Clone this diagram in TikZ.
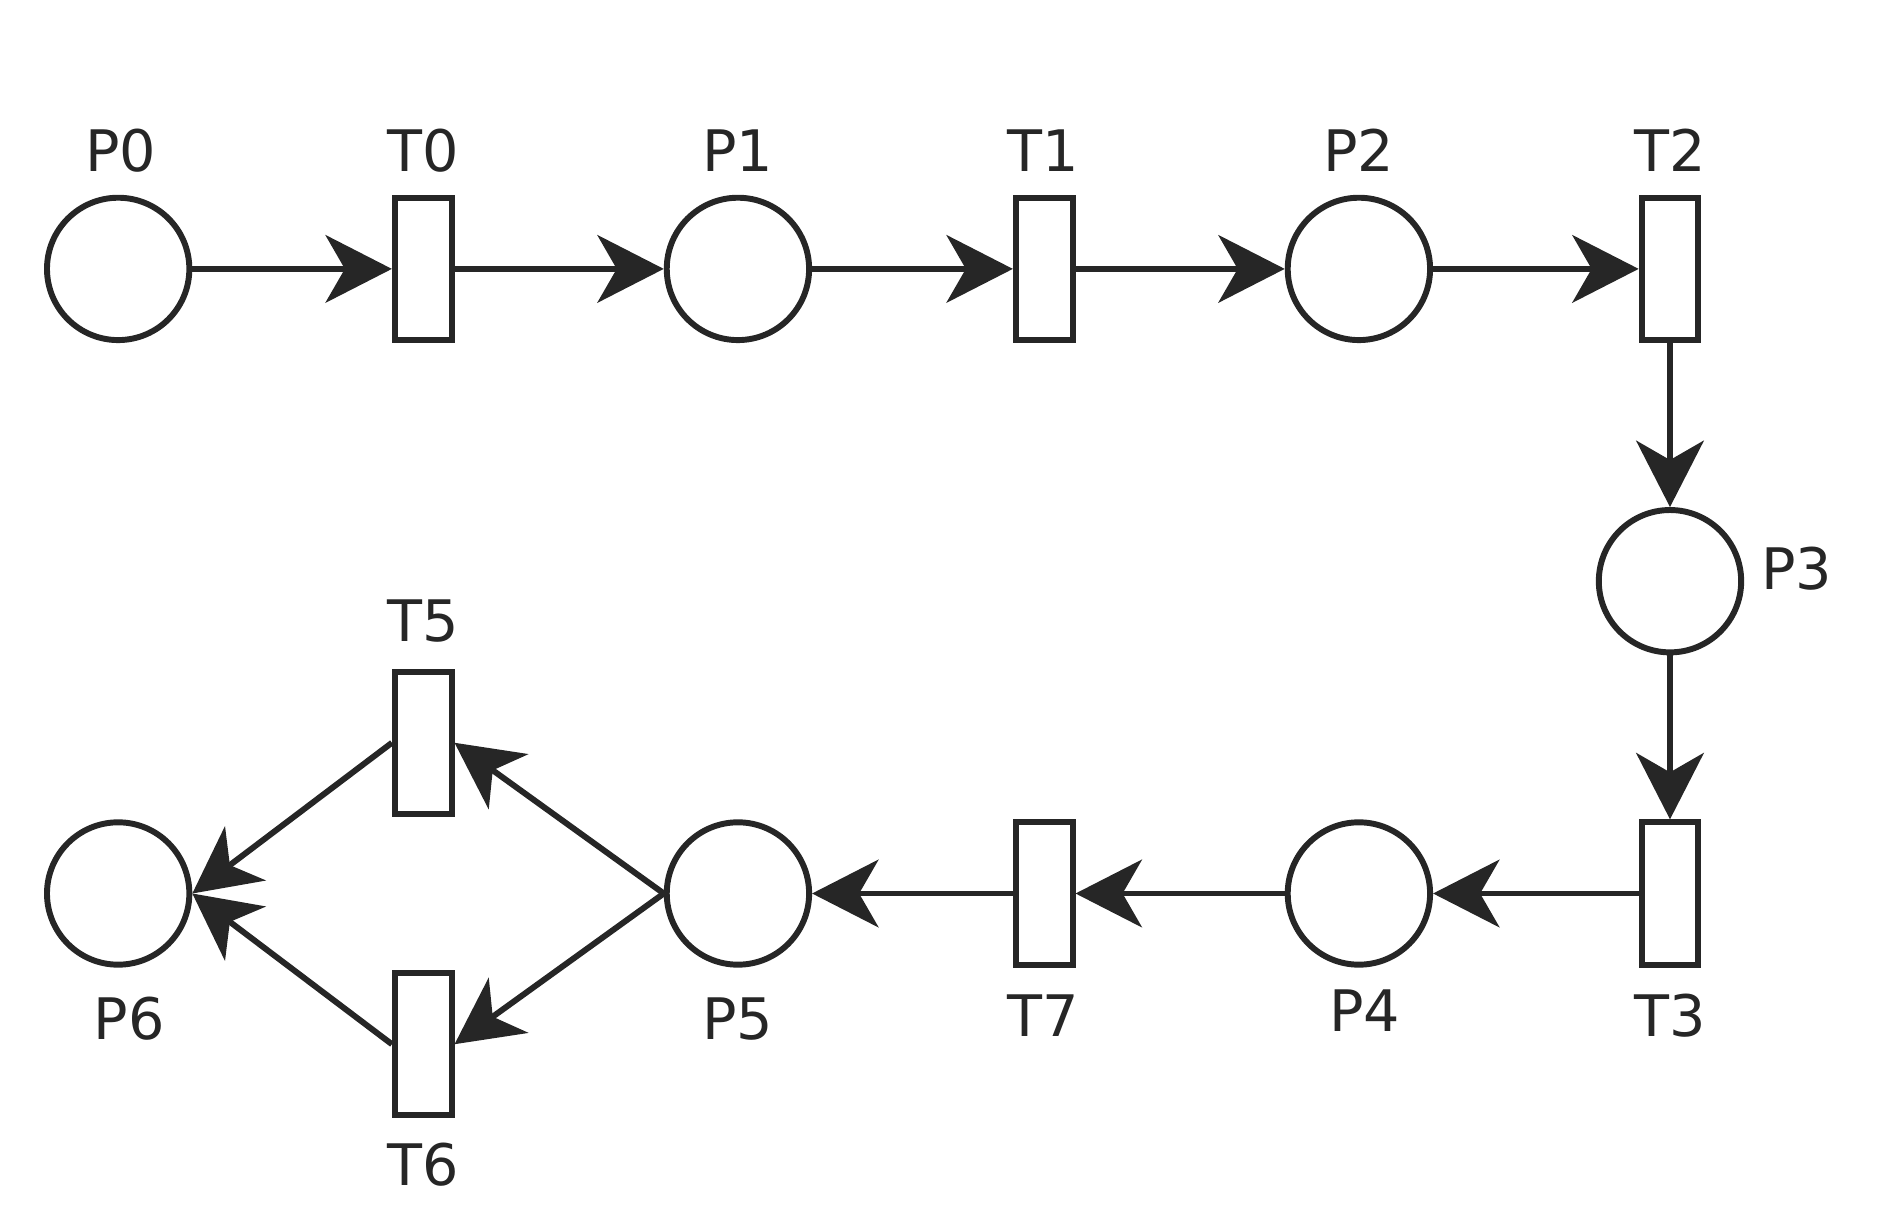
\documentclass[tikz,border=0pt]{standalone}
\usepackage{fontspec}
\setmainfont{DejaVu Sans}
\usetikzlibrary{arrows.meta}
\begin{document}
\begin{tikzpicture}[x=0.01cm,y=-0.01cm,
  place/.style={circle,draw=black!85,line width=1.4pt,minimum size=1.18cm,inner sep=0pt},
  trans/.style={rectangle,draw=black!85,line width=1.4pt,minimum width=0.47cm,minimum height=1.18cm,inner sep=0pt},
  lab/.style={font=\fontsize{13.5}{14}\selectfont,text=black!85},
  arc/.style={draw=black!85,line width=1.4pt,-{Stealth[length=5.5mm,width=5.6mm,inset=1.6mm]}}]
\useasboundingbox (0,0) rectangle (1560,1017);
\node[place] (P0) at (98,223) {};
\node[trans] (T0) at (351,223) {};
\node[place] (P1) at (612,223) {};
\node[trans] (T1) at (866,223) {};
\node[place] (P2) at (1127,223) {};
\node[trans] (T2) at (1385,223) {};
\node[place] (P3) at (1385,482) {};
\node[trans] (T3) at (1385,741) {};
\node[place] (P4) at (1127,741) {};
\node[trans] (T7) at (866,741) {};
\node[place] (P5) at (612,741) {};
\node[trans] (T5) at (351,616) {};
\node[trans] (T6) at (351,866) {};
\node[place] (P6) at (98,741) {};
\node[lab] (lP0) at (100,125) {P0};
\node[lab] (lT0) at (351,125) {T0};
\node[lab] (lP1) at (612,125) {P1};
\node[lab] (lT1) at (865,125) {T1};
\node[lab] (lP2) at (1127,125) {P2};
\node[lab] (lT2) at (1385,125) {T2};
\node[lab] (lP3) at (1490,472) {P3};
\node[lab] (lT3) at (1385,842) {T3};
\node[lab] (lP4) at (1132,838) {P4};
\node[lab] (lT7) at (865,842) {T7};
\node[lab] (lP5) at (612,845) {P5};
\node[lab] (lT5) at (351,515) {T5};
\node[lab] (lT6) at (351,966) {T6};
\node[lab] (lP6) at (107,845) {P6};
\draw[arc] (P0) -- (T0);
\draw[arc] (T0) -- (P1);
\draw[arc] (P1) -- (T1);
\draw[arc] (T1) -- (P2);
\draw[arc] (P2) -- (T2);
\draw[arc] (T2) -- (P3);
\draw[arc] (P3) -- (T3);
\draw[arc] (T3) -- (P4);
\draw[arc] (P4) -- (T7);
\draw[arc] (T7) -- (P5);
\draw[arc] (P5.west) -- (T5.east);
\draw[arc] (P5.west) -- (T6.east);
\draw[arc] (T5.west) -- (P6.east);
\draw[arc] (T6.west) -- (P6.east);
\end{tikzpicture}
\end{document}
